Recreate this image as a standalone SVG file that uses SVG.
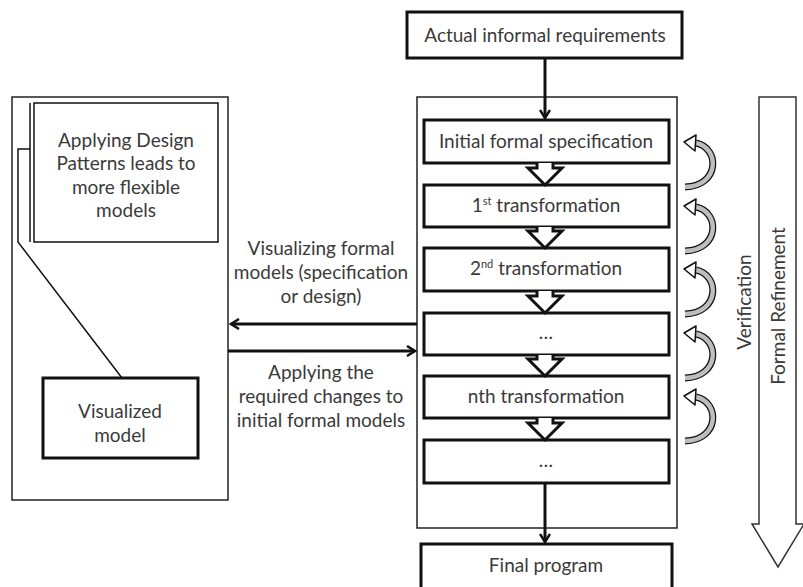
<svg xmlns="http://www.w3.org/2000/svg" xmlns:xlink="http://www.w3.org/1999/xlink" width="803" height="587" viewBox="0 0 803 587">
<style>
  text { font-family: Lato, "Liberation Sans", sans-serif; fill: #3a3a3a; font-size: 19px; text-anchor: middle; }
  .box { fill: #fff; stroke: #111; stroke-width: 3; }
  .cont { fill: #fff; stroke: #222; stroke-width: 1.5; }
  .line { fill: none; stroke: #111; stroke-width: 3; }
  .thin { fill: none; stroke: #111; stroke-width: 1.5; }
  .chev { fill: #fff; stroke: #111; stroke-width: 3; stroke-linejoin: miter; }
</style>
<defs>
  <marker id="open" viewBox="0 0 12 12" refX="10" refY="6" markerWidth="12" markerHeight="12" markerUnits="userSpaceOnUse" orient="auto">
    <path d="M2,1 L10,6 L2,11" fill="none" stroke="#111" stroke-width="2.5"/>
  </marker>
  <g id="varrow">
    <path d="M1,47 C36,46 36,8 12,3" stroke="#111" stroke-width="7" fill="none"/>
    <path d="M1,47 C36,46 36,8 12,3" stroke="#bdbdbd" stroke-width="4.5" fill="none"/>
    <polygon points="0,2 12,-5 11,11" fill="#fff" stroke="#111" stroke-width="1.5" stroke-linejoin="round"/>
  </g>
</defs>
<rect width="803" height="587" fill="#fff"/>

<!-- containers -->
<g id="left-container"><rect class="cont" x="12" y="97" width="216" height="403"/></g>
<g id="middle-container"><rect class="cont" x="417" y="97" width="260" height="431"/></g>

<!-- nodes -->
<g id="requirements">
  <rect class="box" x="407" y="12" width="275" height="46"/>
  <text x="545" y="42">Actual informal requirements</text>
</g>
<g id="initial-spec">
  <rect class="box" x="424" y="120" width="245" height="43"/>
  <text x="546" y="148">Initial formal specification</text>
</g>
<g id="t1">
  <rect class="box" x="424" y="185" width="245" height="42"/>
  <text x="546" y="212">1<tspan font-size="11" dy="-7">st</tspan><tspan dy="7"> transformation</tspan></text>
</g>
<g id="t2">
  <rect class="box" x="424" y="248" width="245" height="43"/>
  <text x="546" y="275">2<tspan font-size="11" dy="-7">nd</tspan><tspan dy="7"> transformation</tspan></text>
</g>
<g id="t3">
  <rect class="box" x="424" y="313" width="245" height="42"/>
  <text x="546" y="339" font-size="13">…</text>
</g>
<g id="tn">
  <rect class="box" x="424" y="376" width="245" height="42"/>
  <text x="546" y="403">nth transformation</text>
</g>
<g id="t5">
  <rect class="box" x="424" y="440" width="245" height="43"/>
  <text x="546" y="467" font-size="11">…</text>
</g>
<g id="final">
  <rect class="box" x="421" y="544" width="251" height="50"/>
  <text x="546" y="572">Final program</text>
</g>
<g id="callout">
  <rect class="thin" x="34" y="103" width="184" height="139" fill="#fff"/>
  <line class="thin" x1="30" y1="103" x2="30" y2="242"/>
  <text x="126" y="147">Applying Design</text>
  <text x="126" y="170">Patterns leads to</text>
  <text x="126" y="194">more flexible</text>
  <text x="126" y="217">models</text>
</g>
<g id="visualized-model">
  <rect class="box" x="43" y="378" width="155" height="80"/>
  <text x="120" y="418">Visualized</text>
  <text x="120" y="442">model</text>
</g>

<!-- connectors -->
<g id="connectors">
  <line class="line" x1="545" y1="58" x2="545" y2="118" marker-end="url(#open)"/>
  <line class="line" x1="545" y1="483" x2="545" y2="542" marker-end="url(#open)"/>
  <line class="line" x1="417" y1="324" x2="231" y2="324" marker-end="url(#open)"/>
  <line class="line" x1="228" y1="351" x2="415" y2="351" marker-end="url(#open)"/>
  <path class="thin" d="M30,149 H18 V242 L122,378"/>
  <path class="chev" d="M537,163 V168 H528 L545,185 L562,168 H553 V163"/>
  <path class="chev" d="M537,227 V231 H528 L545,248 L562,231 H553 V227"/>
  <path class="chev" d="M537,291 V296 H528 L545,313 L562,296 H553 V291"/>
  <path class="chev" d="M537,355 V359 H528 L545,376 L562,359 H553 V355"/>
  <path class="chev" d="M537,418 V423 H528 L545,440 L562,423 H553 V418"/>
</g>

<!-- edge labels -->
<g id="labels">
  <text x="321" y="255">Visualizing formal</text>
  <text x="321" y="279">models (specification</text>
  <text x="321" y="303">or design)</text>
  <text x="321" y="379">Applying the</text>
  <text x="321" y="403">required changes to</text>
  <text x="321" y="427">initial formal models</text>
</g>

<!-- verification arrows -->
<g id="verification">
  <use xlink:href="#varrow" x="684" y="140"/>
  <use xlink:href="#varrow" x="684" y="204"/>
  <use xlink:href="#varrow" x="684" y="267"/>
  <use xlink:href="#varrow" x="684" y="331"/>
  <use xlink:href="#varrow" x="684" y="394"/>
  <text transform="translate(751,302) rotate(-90)">Verification</text>
</g>

<!-- formal refinement arrow -->
<g id="formal-refinement">
  <polygon points="759,97 796,97 796,524 804,524 778,567 752,524 759,524" fill="#fff" stroke="#333" stroke-width="1.5"/>
  <text transform="translate(785,306) rotate(-90)" font-size="20">Formal Refinement</text>
</g>
</svg>
